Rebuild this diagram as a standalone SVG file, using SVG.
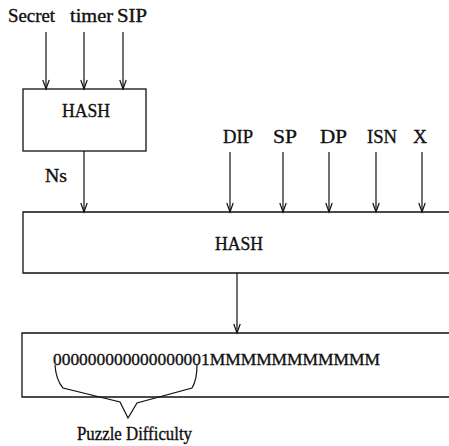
<svg xmlns="http://www.w3.org/2000/svg" width="449" height="446" viewBox="0 0 449 446">
<defs>
<style>
text{font-family:"Liberation Serif","Times New Roman",serif;font-size:18px;fill:#111;stroke:#111;stroke-width:0.35}
.box{fill:none;stroke:#111;stroke-width:1.3}
.c{fill:none;stroke:#111;stroke-width:1.2}
</style>
<marker id="ah" markerUnits="userSpaceOnUse" viewBox="-10 -5 12 10" refX="0" refY="0" markerWidth="12" markerHeight="10" orient="auto" overflow="visible">
<path d="M-9,-3.2 L0,0 L-9,3.2" fill="none" stroke="#111" stroke-width="1.2"/>
</marker>
</defs>
<rect width="449" height="446" fill="#fff"/>
<g id="inputs-top">
<text x="8" y="22" textLength="47" lengthAdjust="spacingAndGlyphs">Secret</text>
<text x="70" y="22" textLength="43" lengthAdjust="spacingAndGlyphs">timer</text>
<text x="117" y="22" textLength="30" lengthAdjust="spacingAndGlyphs">SIP</text>
</g>
<g id="hash1">
<rect class="box" x="23" y="89" width="123" height="62"/>
<text x="62" y="117" textLength="48" lengthAdjust="spacingAndGlyphs">HASH</text>
</g>
<g id="ns-label">
<text x="45" y="182" textLength="22" lengthAdjust="spacingAndGlyphs">Ns</text>
</g>
<g id="inputs-second">
<text x="223" y="143" textLength="30" lengthAdjust="spacingAndGlyphs">DIP</text>
<text x="273" y="143" textLength="24" lengthAdjust="spacingAndGlyphs">SP</text>
<text x="320" y="143" textLength="27" lengthAdjust="spacingAndGlyphs">DP</text>
<text x="367" y="143" textLength="30" lengthAdjust="spacingAndGlyphs">ISN</text>
<text x="413" y="143" textLength="14" lengthAdjust="spacingAndGlyphs">X</text>
</g>
<g id="hash2">
<path class="box" d="M460,212 H23 V273 H460"/>
<text x="215" y="250" textLength="48" lengthAdjust="spacingAndGlyphs">HASH</text>
</g>
<g id="result">
<path class="box" d="M460,333 H22 V397 H460"/>
<text x="53" y="365" textLength="327" lengthAdjust="spacingAndGlyphs" style="font-size:17.5px">000000000000000001MMMMMMMMMMM</text>
</g>
<g id="brace">
<path class="c" d="M55,365 Q56,380 63,388 L120,402 L128,418 L137,403 L192,388 Q197,380 197,365"/>
<text x="77" y="440" textLength="115" lengthAdjust="spacingAndGlyphs">Puzzle Difficulty</text>
</g>
<g id="connectors">
<line class="c" x1="46" y1="32" x2="46" y2="89" marker-end="url(#ah)"/>
<line class="c" x1="84" y1="32" x2="84" y2="89" marker-end="url(#ah)"/>
<line class="c" x1="123" y1="32" x2="123" y2="89" marker-end="url(#ah)"/>
<line class="c" x1="84" y1="151" x2="84" y2="212" marker-end="url(#ah)"/>
<line class="c" x1="230" y1="152" x2="230" y2="212" marker-end="url(#ah)"/>
<line class="c" x1="283" y1="152" x2="283" y2="212" marker-end="url(#ah)"/>
<line class="c" x1="329" y1="152" x2="329" y2="212" marker-end="url(#ah)"/>
<line class="c" x1="376" y1="152" x2="376" y2="212" marker-end="url(#ah)"/>
<line class="c" x1="422" y1="152" x2="422" y2="212" marker-end="url(#ah)"/>
<line class="c" x1="237" y1="273" x2="237" y2="333" marker-end="url(#ah)"/>
</g>
</svg>
